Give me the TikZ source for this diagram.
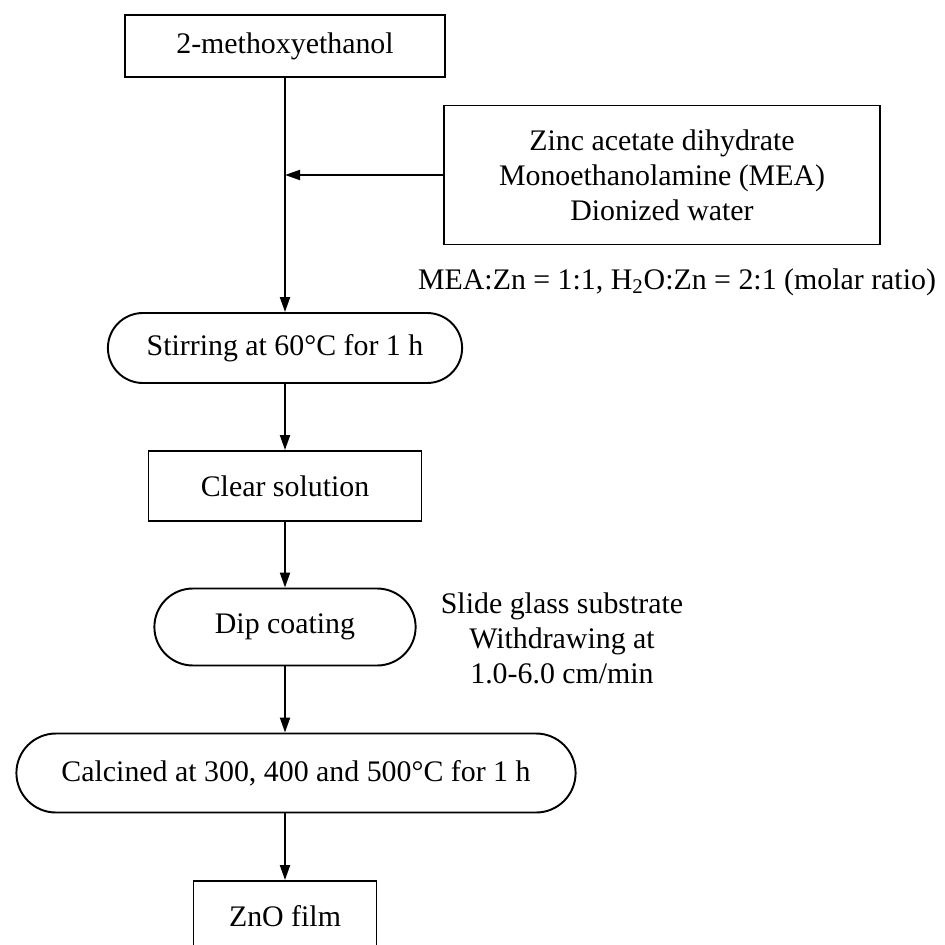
\documentclass[tikz,border=0pt]{standalone}
\usepackage{fontspec}
\setmainfont{Liberation Serif}
\usetikzlibrary{arrows.meta, shapes.misc}

\begin{document}
\begin{tikzpicture}[x=0.02cm, y=-0.02cm,
        every node/.style={font=\fontsize{17}{20}\selectfont},
        box/.style={rectangle, draw, line width=1.1pt},
        pill/.style={rounded rectangle, draw, line width=1.1pt},
        flow/.style={line width=1.1pt, -{Triangle[length=0.3cm, width=0.2cm]}}]
            \useasboundingbox (0,0) rectangle (945,945);

            \node[box, minimum width=6.4cm, minimum height=1.24cm] (meth) at (285,46) {2-methoxyethanol};

            \node[box, minimum width=8.72cm, minimum height=2.78cm, align=center] (reag) at (662,175) {Zinc acetate dihydrate\\Monoethanolamine (MEA)\\Dionized water};
            \node (ratio) at (677,282) {MEA:Zn = 1:1, H\textsubscript{2}O:Zn = 2:1 (molar ratio)};

            \node[pill, minimum width=7.32cm, minimum height=1.4cm] (stir) at (285,348) {Stirring at 60°C for 1 h};

            \node[box, minimum width=5.46cm, minimum height=1.4cm] (clear) at (285,486) {Clear solution};

            \node[pill, minimum width=5.46cm, minimum height=1.54cm] (dip) at (285,627) {Dip coating};
            \node[align=center] (dipnote) at (562,638) {Slide glass substrate\\Withdrawing at\\1.0-6.0 cm/min};

            \node[pill, minimum width=11.42cm, minimum height=1.58cm] (calc) at (296,773) {Calcined at 300, 400 and 500°C for 1 h};

            \node[box, minimum width=3.66cm, minimum height=1.4cm] (zno) at (285,916) {ZnO film};

            \draw[flow] (meth.south) -- (stir.north);
            \draw[flow] (reag.west) -- (reag.west -| meth.south);
            \draw[flow] (stir.south) -- (clear.north);
            \draw[flow] (clear.south) -- (dip.north);
            \draw[flow] (dip.south) -- (dip.south |- calc.north);
            \draw[flow] (calc.south -| zno.north) -- (zno.north);

\end{tikzpicture}
\end{document}
